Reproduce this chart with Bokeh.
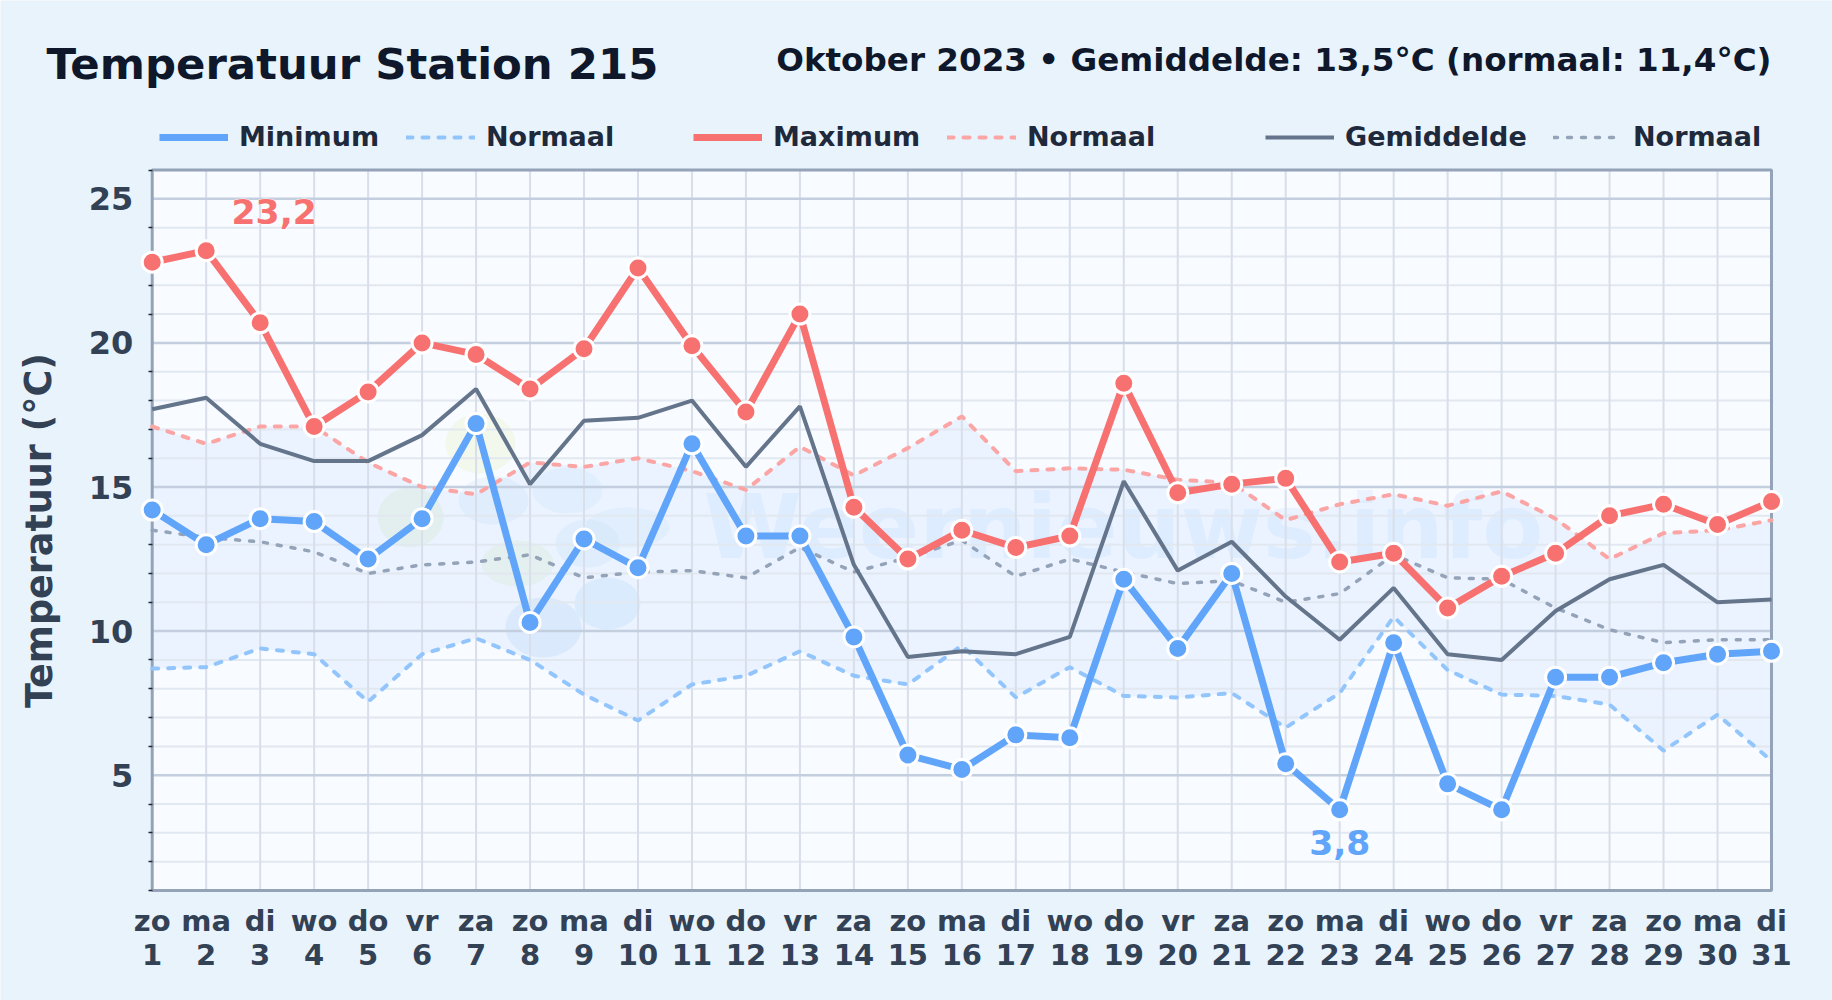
from bokeh.embed import file_html
from bokeh.resources import INLINE
from bokeh.plotting import figure
from bokeh.models import FixedTicker, Label, Legend, LegendItem, Range1d

days = list(range(1, 32))
weekdays = ["zo","ma","di","wo","do","vr","za","zo","ma","di","wo","do","vr","za","zo","ma","di","wo","do","vr","za","zo","ma","di","wo","do","vr","za","zo","ma","di"]
t_min = [14.2,13.0,13.9,13.8,12.5,13.9,17.2,10.3,13.2,12.2,16.5,13.3,13.3,9.8,5.7,5.2,6.4,6.3,11.8,9.4,12.0,5.4,3.8,9.6,4.7,3.8,8.4,8.4,8.9,9.2,9.3]
t_max = [22.8,23.2,20.7,17.1,18.3,20.0,19.6,18.4,19.8,22.6,19.9,17.6,21.0,14.3,12.5,13.5,12.9,13.3,18.6,14.8,15.1,15.3,12.4,12.7,10.8,11.9,12.7,14.0,14.4,13.7,14.5]
t_avg = [17.7,18.1,16.5,15.9,15.9,16.8,18.4,15.1,17.3,17.4,18.0,15.7,17.8,12.3,9.1,9.3,9.2,9.8,15.2,12.1,13.1,11.2,9.7,11.5,9.2,9.0,10.7,11.8,12.3,11.0,11.1]
norm_min = [8.7,8.75,9.4,9.2,7.55,9.2,9.75,9.0,7.8,6.9,8.15,8.45,9.3,8.45,8.15,9.5,7.7,8.75,7.75,7.7,7.85,6.65,7.85,10.5,8.65,7.8,7.75,7.45,5.85,7.1,5.5]
norm_max = [17.1,16.5,17.1,17.1,15.85,15.0,14.75,15.85,15.7,16.0,15.55,14.9,16.4,15.4,16.35,17.45,15.55,15.65,15.6,15.25,15.15,13.85,14.4,14.75,14.35,14.85,13.9,12.5,13.4,13.5,13.85]
norm_avg = [13.5,13.25,13.1,12.75,12.0,12.3,12.4,12.65,11.85,12.05,12.1,11.85,12.9,12.05,12.55,13.15,11.9,12.5,12.05,11.65,11.75,11.0,11.3,12.65,11.85,11.8,10.8,10.05,9.6,9.7,9.7]
y_major = [5, 10, 15, 20, 25]
y_minor = [v for v in range(1, 27) if v % 5]

PAGE = "#e8f3fc"
FONT = "DejaVu Sans"
W, H = 1832, 1000
X0, X1 = 151.7, 1771.0                   # where day 1 and day 31 fall
Y0, Y1 = 890.0, 169.5                    # where 1 and 26 degrees fall
PPD = (X1 - X0) / 30
PPU = (Y0 - Y1) / 25

def dx(px):
    return 1 + (px - X0) / PPD

def dy(py):
    return 1 + (Y0 - py) / PPU

def sy(py):
    return H - py

p = figure(width=W, height=H, output_backend="svg", toolbar_location=None,
           x_range=Range1d(dx(0), dx(W)), y_range=Range1d(dy(H), dy(0)),
           min_border_left=0, min_border_right=0, min_border_top=0, min_border_bottom=0,
           background_fill_color=PAGE, border_fill_color=PAGE, outline_line_color=None)
p.grid.visible = False

# plot area
p.quad(left=[1], right=[31], bottom=[1], top=[26], fill_color="#f8fbff", line_color=None, level="image")

# watermark
blobs = [(493, 500, 70, 48, "#cfe3f9", .30), (567, 490, 70, 46, "#d5e8fb", .30), (627, 527, 84, 40, "#cfe3f9", .25),
         (587, 543, 64, 48, "#cfe3f9", .30), (543, 627, 76, 60, "#bcd7f5", .30), (607, 603, 66, 52, "#c9e3fb", .35),
         (410, 517, 66, 60, "#e4f0d2", .40), (480, 443, 70, 60, "#eef5d8", .45), (517, 563, 72, 46, "#e6f1d4", .40)]
for bx, by, bw, bh, col, alpha in blobs:
    p.ellipse(x=[dx(bx)], y=[dy(by)], width=[bw], height=[bh], width_units="screen", height_units="screen",
              fill_color=col, fill_alpha=alpha, line_color=None, level="image")
p.add_layout(Label(x=703, y=sy(526), x_units="screen", y_units="screen", text="Weernieuws.info",
                   text_font=FONT, text_font_style="bold", text_font_size="89px", text_color="#bfdbfe", text_alpha=0.24,
                   text_baseline="alphabetic", level="image"))

# normal range band
p.varea(x=days, y1=norm_min, y2=norm_max, fill_color="#93c5fd", fill_alpha=0.14, level="underlay")

# grid
p.segment(x0=[1] * len(y_minor), x1=[31] * len(y_minor), y0=y_minor, y1=y_minor,
          line_color="#e2e8f0", line_width=2, level="underlay")
p.segment(x0=days, x1=days, y0=[1] * 31, y1=[26] * 31, line_color="#d8dfea", line_width=2, level="underlay")
p.segment(x0=[1] * 5, x1=[31] * 5, y0=y_major, y1=y_major, line_color="#c3cfdf", line_width=2.5, level="underlay")
p.quad(left=[1], right=[31], bottom=[1], top=[26], fill_color=None, line_color="#94a3b8", line_width=3, level="underlay")

# series
r_nmin = p.line(days, norm_min, line_color="#93c5fd", line_width=4, line_dash="6 10", line_cap="round")
r_nmax = p.line(days, norm_max, line_color="#fca5a5", line_width=4, line_dash="6 10", line_cap="round")
r_navg = p.line(days, norm_avg, line_color="#94a3b8", line_width=3.5, line_dash="4 10", line_cap="round")
r_avg = p.line(days, t_avg, line_color="#64748b", line_width=4)
r_min = p.line(days, t_min, line_color="#60a5fa", line_width=7)
r_max = p.line(days, t_max, line_color="#f87171", line_width=7)
p.scatter(days, t_min, size=20, fill_color="#60a5fa", line_color="white", line_width=3)
p.scatter(days, t_max, size=20, fill_color="#f87171", line_color="white", line_width=3)

# axes
xa = p.xaxis[0]
xa.fixed_location = 1
xa.ticker = FixedTicker(ticks=days)
xa.major_label_overrides = {d: f"{w}\n{d}" for d, w in zip(days, weekdays)}
xa.major_label_text_font = FONT
xa.major_label_text_font_style = "bold"
xa.major_label_text_font_size = "29px"
xa.major_label_text_color = "#334155"
xa.major_label_text_line_height = 1.0
xa.major_label_standoff = 7
xa.major_tick_line_color = None
xa.minor_tick_line_color = None
xa.axis_line_color = None

ya = p.yaxis[0]
ya.fixed_location = 1
ya.ticker = FixedTicker(ticks=y_major, minor_ticks=y_minor)
ya.major_label_text_font = FONT
ya.major_label_text_font_style = "bold"
ya.major_label_text_font_size = "32px"
ya.major_label_text_color = "#334155"
ya.major_label_standoff = 13
ya.major_tick_line_color = None
ya.minor_tick_line_color = "#1f2937"
ya.minor_tick_line_width = 1.5
ya.minor_tick_in = 0
ya.minor_tick_out = 4
ya.axis_line_color = None
ya.level = "underlay"

# texts
def text(px, py, s, size, color, align="left", angle=0):
    p.add_layout(Label(x=px, y=sy(py), x_units="screen", y_units="screen", text=s,
                       text_font=FONT, text_font_style="bold", text_font_size=size, text_color=color,
                       text_align=align, text_baseline="alphabetic" if angle == 0 else "middle", angle=angle))

text(46, 63, "Temperatuur Station 215", "43.4px", "#0f172a")
text(1771, 59, "Oktober 2023 • Gemiddelde: 13,5°C (normaal: 11,4°C)", "32.6px", "#0f172a", align="right")
text(38.5, 530, "Temperatuur (°C)", "36.5px", "#334155", align="center", angle=1.5708)

# extreme labels
i_hi = t_max.index(max(t_max))
i_lo = t_min.index(min(t_min))
for x, y, off_x, off_y, col in [(days[i_hi], t_max[i_hi], 68, 39, "#f87171"), (days[i_lo], t_min[i_lo], 0, -33, "#60a5fa")]:
    s = f"{y:.1f}".replace(".", ",")
    for outline in ("white", None):
        p.add_layout(Label(x=x, y=y, x_offset=off_x, y_offset=off_y, text=s,
                           text_font=FONT, text_font_style="bold", text_font_size="34.5px", text_color=col,
                           text_align="center", text_baseline="middle", text_outline_color=outline))

# legend
legend_items = [("Minimum", r_min, 159), ("Normaal", r_nmin, 406), ("Maximum", r_max, 693),
                ("Normaal", r_nmax, 947), ("Gemiddelde", r_avg, 1265), ("Normaal", r_navg, 1553)]
for name, rend, lx in legend_items:
    lg = Legend(items=[LegendItem(label=name, renderers=[rend])], location=(lx, sy(152)),
                orientation="horizontal", padding=0, margin=0, spacing=0,
                glyph_width=69, glyph_height=30, label_standoff=11, label_height=30,
                label_text_font=FONT, label_text_font_style="bold", label_text_font_size="27px",
                label_text_color="#1e293b", label_text_baseline="middle",
                background_fill_alpha=0, border_line_alpha=0)
    p.add_layout(lg, "center")

open("out.html", "w").write(file_html(p, INLINE))
